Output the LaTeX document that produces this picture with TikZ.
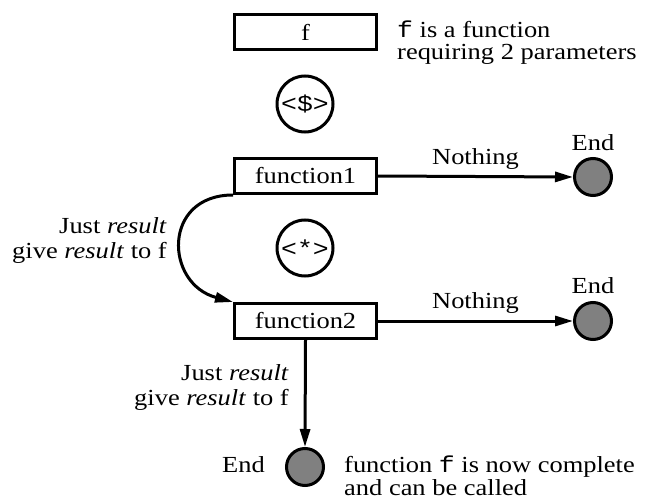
\documentclass[tikz,border=0pt]{standalone}
\usepackage{fontspec}
\setmainfont[FakeStretch=1.15]{Liberation Serif}
\setmonofont[FakeStretch=1.15]{Liberation Mono}
\usetikzlibrary{arrows.meta}
\definecolor{endgray}{RGB}{128,128,128}
\begin{document}
\begin{tikzpicture}[x=1pt,y=-1pt,
  every node/.style={font=\fontsize{23}{26}\selectfont, inner sep=0pt},
  funcbox/.style={draw, line width=3pt, minimum width=142pt, minimum height=35pt},
  opcircle/.style={draw, circle, line width=3pt, minimum size=56pt,
    font=\ttfamily\fontsize{23}{26}\selectfont},
  endpt/.style={draw, circle, line width=3pt, fill=endgray, minimum size=37pt},
  flow/.style={line width=3pt, -{Triangle[length=18pt,width=10pt]}},
  txt/.style={anchor=base west},
  rtxt/.style={anchor=base east}]
\useasboundingbox (0,0) rectangle (645,500);

% the function and its applicative operators
\node[funcbox] (f) at (305.5,32.5) {f};
\node[txt] (note1) at (397,38) {\texttt{f} is a function};
\node[txt] (note2) at (397,59.5) {requiring 2 parameters};
\node[opcircle] (fmap) at (305,104) {<\$>};
\node[funcbox] (f1) at (305.5,176) {function1};
\node[opcircle] (ap) at (305,248) {<*>};
\node[funcbox] (f2) at (305.5,321) {function2};

% end points
\node[endpt] (e1) at (593,177) {};
\node[endpt] (e2) at (593,321) {};
\node[endpt] (e3) at (305,467) {};
\node[anchor=base] (e1lab) at (593,150) {End};
\node[anchor=base] (e2lab) at (593,293) {End};
\node[rtxt] (e3lab) at (265,472) {End};
\node[txt] (done1) at (344,472) {function \texttt{f} is now complete};
\node[txt] (done2) at (344,495) {and can be called};

% connectors
\draw[flow] (f1.east) -- node[above=6pt] (n1) {Nothing} (e1.west);
\draw[flow] (f2.east) -- node[above=6pt] (n2) {Nothing} (e2.west);
\draw[flow] (f1.south west) to[out=180, in=165, looseness=1.7] (f2.north west);
\draw[flow] (f2.south) -- (e3.north);

% labels of the result paths
\node[rtxt] (j1a) at (167,233) {Just \textit{result}};
\node[rtxt] (j1b) at (167,258) {give \textit{result} to f};
\node[rtxt] (j2a) at (289,380) {Just \textit{result}};
\node[rtxt] (j2b) at (289,405) {give \textit{result} to f};
\end{tikzpicture}
\end{document}
